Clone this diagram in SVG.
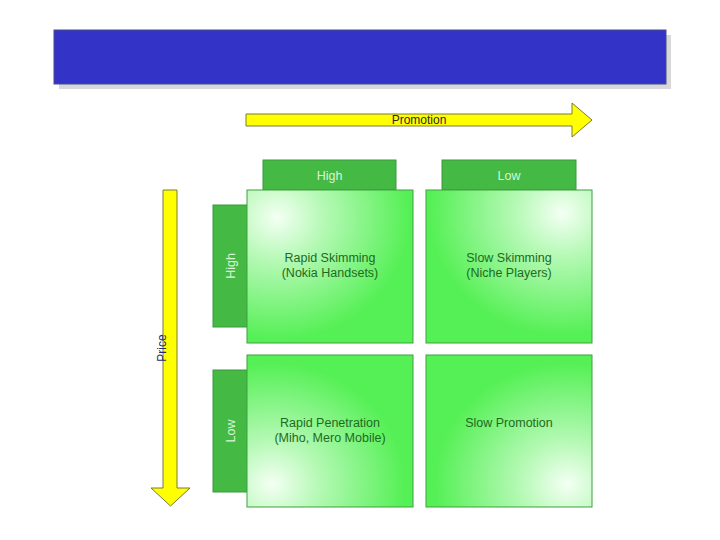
<svg xmlns="http://www.w3.org/2000/svg" width="720" height="540" viewBox="0 0 720 540">
<defs>
<style>
.hdr{fill:#44b944;stroke:#3a9a3a;stroke-width:1}
.hdrt{font-family:"Liberation Sans",Arial,sans-serif;font-size:12.5px;fill:#d8f5d8;text-anchor:middle}
.q{stroke:#3f9f3f;stroke-width:1}
.qt{font-family:"Liberation Sans",Arial,sans-serif;font-size:12.5px;fill:#1f6a1f;text-anchor:middle}
.arr{fill:#ffff00;stroke:#7a7a3a;stroke-width:1}
.at{font-family:"Liberation Sans",Arial,sans-serif;font-size:12px;text-anchor:middle}
</style>
<radialGradient id="gTL" cx="0.18" cy="0.18" r="0.8"><stop offset="0" stop-color="#f4fff4"/><stop offset="0.35" stop-color="#b6f9b6"/><stop offset="1" stop-color="#55f055"/></radialGradient>
<radialGradient id="gTR" cx="0.82" cy="0.15" r="0.8"><stop offset="0" stop-color="#f4fff4"/><stop offset="0.35" stop-color="#b6f9b6"/><stop offset="1" stop-color="#55f055"/></radialGradient>
<radialGradient id="gBL" cx="0.15" cy="0.85" r="0.8"><stop offset="0" stop-color="#f4fff4"/><stop offset="0.35" stop-color="#b6f9b6"/><stop offset="1" stop-color="#55f055"/></radialGradient>
<radialGradient id="gBR" cx="0.85" cy="0.85" r="0.8"><stop offset="0" stop-color="#f4fff4"/><stop offset="0.35" stop-color="#b6f9b6"/><stop offset="1" stop-color="#55f055"/></radialGradient>
</defs>
<rect width="720" height="540" fill="#ffffff"/>
<g id="banner">
<rect x="59" y="35" width="612" height="54" fill="#d8d8d8"/>
<rect x="54" y="30" width="612" height="54" fill="#3333c8" stroke="#4a4a8a" stroke-width="1"/>
</g>
<g id="connectors">
<g id="promotion-arrow">
<polygon class="arr" points="246,114 572,114 572,103 592,120 572,137 572,126 246,126"/>
<text class="at" x="419" y="124" fill="#2a2a2a">Promotion</text>
</g>
<g id="price-arrow">
<polygon class="arr" points="163,190 177,190 177,488 190,488 170.5,506 151,488 163,488"/>
<text class="at" x="0" y="0" fill="#2a2a66" transform="translate(166,348) rotate(-90)">Price</text>
</g>
</g>
<g id="col-high"><rect class="hdr" x="263" y="160" width="133" height="30"/><text class="hdrt" x="329.5" y="179.5">High</text></g>
<g id="col-low"><rect class="hdr" x="442" y="160" width="134" height="30"/><text class="hdrt" x="509" y="179.5">Low</text></g>
<g id="row-high"><rect class="hdr" x="213" y="205" width="36" height="122"/><text class="hdrt" transform="translate(234.5,266) rotate(-90)">High</text></g>
<g id="row-low"><rect class="hdr" x="213" y="370" width="36" height="122"/><text class="hdrt" transform="translate(234.5,431) rotate(-90)">Low</text></g>
<g id="rapid-skimming"><rect class="q" x="247" y="190" width="166" height="153" fill="url(#gTL)"/><text class="qt" x="330" y="262">Rapid Skimming</text><text class="qt" x="330" y="277">(Nokia Handsets)</text></g>
<g id="slow-skimming"><rect class="q" x="426" y="190" width="166" height="153" fill="url(#gTR)"/><text class="qt" x="509" y="262">Slow Skimming</text><text class="qt" x="509" y="277">(Niche Players)</text></g>
<g id="rapid-penetration"><rect class="q" x="247" y="355" width="166" height="152" fill="url(#gBL)"/><text class="qt" x="330" y="427">Rapid Penetration</text><text class="qt" x="330" y="442">(Miho, Mero Mobile)</text></g>
<g id="slow-promotion"><rect class="q" x="426" y="355" width="166" height="152" fill="url(#gBR)"/><text class="qt" x="509" y="427">Slow Promotion</text></g>
</svg>
